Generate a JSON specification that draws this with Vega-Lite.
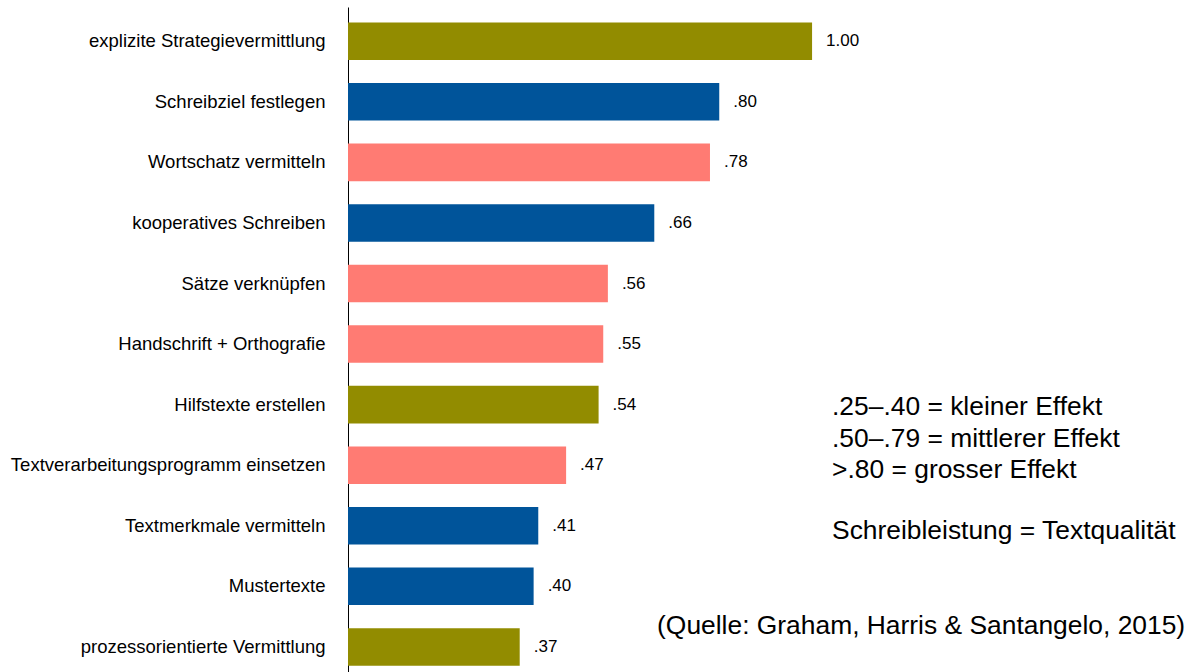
{
  "$schema": "https://vega.github.io/schema/vega-lite/v6.json",
  "width": 846,
  "height": 665,
  "autosize": "none",
  "padding": {"left": 348, "top": 7, "right": 0, "bottom": 0},
  "background": "white",
  "config": {"view": {"stroke": null}, "font": "Liberation Sans"},
  "datasets": {
    "bars": [
      {"strategy": "explizite Strategievermittlung", "effect": 1.00, "label": "1.00", "group": "G1"},
      {"strategy": "Schreibziel festlegen", "effect": 0.80, "label": ".80", "group": "G2"},
      {"strategy": "Wortschatz vermitteln", "effect": 0.78, "label": ".78", "group": "G3"},
      {"strategy": "kooperatives Schreiben", "effect": 0.66, "label": ".66", "group": "G2"},
      {"strategy": "Sätze verknüpfen", "effect": 0.56, "label": ".56", "group": "G3"},
      {"strategy": "Handschrift + Orthografie", "effect": 0.55, "label": ".55", "group": "G3"},
      {"strategy": "Hilfstexte erstellen", "effect": 0.54, "label": ".54", "group": "G1"},
      {"strategy": "Textverarbeitungsprogramm einsetzen", "effect": 0.47, "label": ".47", "group": "G3"},
      {"strategy": "Textmerkmale vermitteln", "effect": 0.41, "label": ".41", "group": "G2"},
      {"strategy": "Mustertexte", "effect": 0.40, "label": ".40", "group": "G2"},
      {"strategy": "prozessorientierte Vermittlung", "effect": 0.37, "label": ".37", "group": "G1"}
    ],
    "notes": [
      {"text": ".25–.40 = kleiner Effekt", "x": 1.043, "pos": 6.033},
      {"text": ".50–.79 = mittlerer Effekt", "x": 1.043, "pos": 6.558},
      {"text": ">.80 = grosser Effekt", "x": 1.043, "pos": 7.078},
      {"text": "Schreibleistung = Textqualität", "x": 1.043, "pos": 8.077},
      {"text": "(Quelle: Graham, Harris & Santangelo, 2015)", "x": 0.666, "pos": 9.653}
    ]
  },
  "layer": [
    {
      "data": {"name": "bars"},
      "encoding": {
        "y": {
          "field": "strategy", "type": "nominal", "sort": null,
          "scale": {"type": "band", "paddingInner": 0.38, "paddingOuter": 0.18, "align": 0.71},
          "axis": {"title": null, "ticks": false, "domain": true, "domainColor": "#000000", "domainWidth": 1,
                   "labelFontSize": 18.5, "labelColor": "#000000", "labelPadding": 23, "labelLimit": 0, "grid": false}
        },
        "x": {
          "field": "effect", "type": "quantitative",
          "scale": {"domain": [0, 1.823], "nice": false, "zero": true},
          "axis": null
        }
      },
      "layer": [
        {
          "mark": {"type": "bar"},
          "encoding": {
            "color": {
              "field": "group", "type": "nominal",
              "scale": {"domain": ["G1", "G2", "G3"], "range": ["#928C00", "#00549A", "#FF7B73"]},
              "legend": null
            }
          }
        },
        {
          "mark": {"type": "text", "align": "left", "baseline": "middle", "dx": 14, "fontSize": 17, "color": "#000000"},
          "encoding": {
            "text": {"field": "label"}
          }
        }
      ]
    },
    {
      "data": {"name": "notes"},
      "mark": {"type": "text", "align": "left", "baseline": "middle", "fontSize": 26.4, "color": "#000000"},
      "encoding": {
        "y": {"field": "pos", "type": "quantitative",
              "scale": {"domain": [-0.566, 10.413], "reverse": true, "nice": false, "zero": false},
              "axis": null},
        "x": {"field": "x", "type": "quantitative"},
        "text": {"field": "text"}
      }
    }
  ],
  "resolve": {"scale": {"y": "independent"}, "axis": {"y": "independent"}}
}
